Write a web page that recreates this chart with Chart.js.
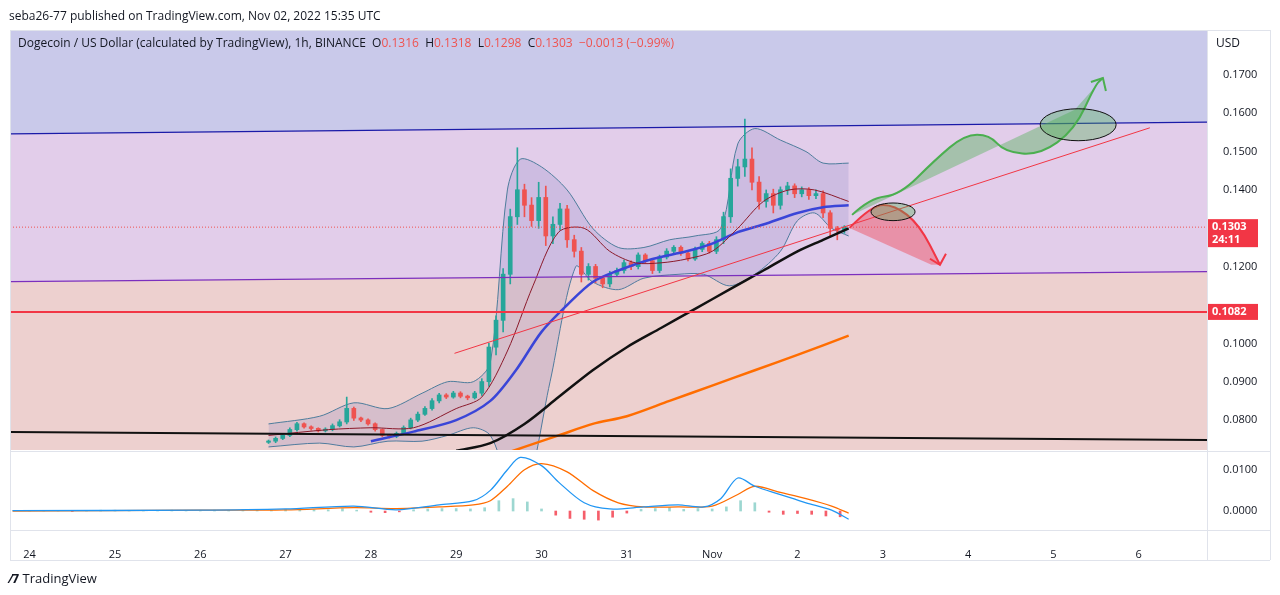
<!DOCTYPE html>
<html><head><meta charset="utf-8">
<script src="https://cdn.jsdelivr.net/npm/chart.js@4/dist/chart.umd.min.js"></script>
<style>
body{margin:0;background:#fff;font-family:"Open Sans",Arial,sans-serif;}
#wrap{position:relative;width:1280px;height:595px;}
canvas{position:absolute;left:0;}
.t{position:absolute;font-size:12px;color:#131722;white-space:nowrap;}
</style></head><body>
<div id="wrap"><canvas id="c1" width="1280" height="452" style="top:0"></canvas><canvas id="c2" width="1280" height="143" style="top:452px"></canvas>
<div class="t" style="left:9px;top:7px;font-size:12px">seba26-77 published on TradingView.com, Nov 02, 2022 15:35 UTC</div>
<div class="t" style="left:18px;top:34px;font-size:12px">Dogecoin / US Dollar (calculated by TradingView), 1h, BINANCE&nbsp; O<span style="color:#ef5350">0.1316</span>&nbsp; H<span style="color:#ef5350">0.1318</span>&nbsp; L<span style="color:#ef5350">0.1298</span>&nbsp; C<span style="color:#ef5350">0.1303&nbsp; −0.0013 (−0.99%)</span></div>
<div class="t" style="left:1216px;top:34px">USD</div>
<div class="t" style="left:10px;top:569px;font-size:13px;font-weight:bold">⁄7 <span style="font-weight:normal">TradingView</span></div>
</div>
<script>
// ---- data ----
const tickLabels=['24','25','26','27','28','29','30','31','Nov','2','3','4','5','6'];
const candleStart=2.8, candleStep=1/12;
const closes=[0.0745,0.0752,0.0760,0.0775,0.0790,0.0782,0.0778,0.0772,0.0776,
0.0785,0.0795,0.0830,0.0805,0.0800,0.0790,
0.0775,0.0760,0.0758,0.0765,0.0780,0.0800,
0.0815,0.0830,0.0850,0.0865,0.0860,0.0870,
0.0862,0.0858,0.0870,0.0900,0.0990,
0.1060,0.1180,0.1330,0.1400,0.1360,
0.1320,0.1380,0.1280,0.1310,0.1350,
0.1270,0.1240,0.1180,0.1200,0.1170,
0.1155,0.1180,0.1190,0.1210,0.1200,0.1230,0.1215,
0.1190,0.1225,0.1240,0.1250,0.1235,0.1220,0.1245,
0.1260,0.1240,0.1270,0.1330,
0.1430,0.1460,0.1480,0.1420,
0.1370,0.1390,0.1360,0.1400,0.1410,0.1390,0.1400,
0.1385,0.1390,0.1340,0.1300,0.1295,0.1303];
const wickUp=[3,4,3,5,4,3,3,2,4, 5,6,30,4,3,3, 3,2,3,4,5,5, 6,5,6,5,4,5, 4,3,5,8,10, 12,15,20,110,15, 20,40,30,20,15, 10,12,10,8,6, 5,8,6,7,5,6,4, 6,5,7,5,4,5,6, 5,6,8,12, 25,20,105,30, 15,10,12,8,10,6,8, 6,10,8,6,5,4];
const wickDn=[3,4,3,3,4,3,4,3,3, 4,3,5,6,4,3, 4,3,5,4,3,3, 4,3,4,5,4,3, 4,5,3,6,12, 20,30,25,20,30, 15,20,25,20,15, 20,15,20,15,12, 10,8,6,7,8,6,5, 8,6,5,7,6,5,4, 6,5,6,10, 15,20,25,20, 20,15,20,10,12,10,8, 10,8,12,20,25,8];
const ma20=[[2.8,0.076],[3.5,0.0775],[4.0,0.078],[4.5,0.078],[5.0,0.083],[5.3,0.086],[5.6,0.098],[5.9,0.115],[6.2,0.129],[6.5,0.130],[6.8,0.124],[7.1,0.121],[7.4,0.121],[7.7,0.122],[8.0,0.124],[8.3,0.130],[8.6,0.137],[8.9,0.140],[9.2,0.140],[9.6,0.137]];
const bbUpper=[[2.8,0.079],[3.4,0.081],[3.8,0.0845],[4.2,0.083],[4.6,0.087],[4.9,0.090],[5.2,0.090],[5.4,0.095],[5.6,0.140],[5.75,0.148],[6.0,0.146],[6.3,0.140],[6.6,0.130],[6.9,0.125],[7.2,0.125],[7.5,0.127],[7.8,0.128],[8.1,0.130],[8.3,0.152],[8.5,0.156],[8.8,0.153],[9.1,0.150],[9.3,0.147],[9.6,0.147]];
const bbLower=[[2.8,0.073],[3.4,0.074],[3.8,0.073],[4.2,0.0745],[4.6,0.0745],[4.9,0.076],[5.2,0.078],[5.4,0.076],[5.6,0.065],[5.8,0.060],[6.1,0.090],[6.4,0.120],[6.6,0.116],[6.9,0.114],[7.2,0.117],[7.6,0.118],[7.9,0.118],[8.2,0.115],[8.5,0.118],[8.8,0.124],[9.0,0.132],[9.2,0.134],[9.4,0.130],[9.6,0.128]];
const maBlue=[[4.0,0.0745],[4.5,0.077],[5.0,0.080],[5.4,0.085],[5.7,0.093],[6.0,0.103],[6.3,0.110],[6.6,0.116],[6.9,0.119],[7.3,0.122],[7.7,0.124],[8.0,0.126],[8.3,0.129],[8.6,0.131],[9.0,0.134],[9.3,0.1355],[9.6,0.136]];
const maBlack=[[5.0,0.0720],[5.4,0.0740],[5.8,0.079],[6.2,0.086],[6.6,0.093],[7.0,0.099],[7.4,0.104],[7.8,0.109],[8.2,0.114],[8.6,0.119],[9.0,0.124],[9.3,0.127],[9.6,0.130]];
const maOrange=[[5.4,0.070],[5.8,0.073],[6.2,0.076],[6.6,0.079],[7.0,0.081],[7.5,0.085],[8.0,0.089],[8.5,0.093],[9.0,0.097],[9.6,0.102]];
const lineBlueTop=[[-0.23,0.1546],[13.8,0.1577]];
const linePurple=[[-0.23,0.1161],[13.8,0.1187]];
const lineBlackLow=[[-0.23,0.0769],[13.8,0.0748]];
const lineRedTrend=[[4.98,0.0974],[13.13,0.1562]];
const levelRed=0.1082, lastPrice=0.1303;
const greenUpper=[[9.64,0.1335],[9.85,0.1379],[10.2,0.1387],[10.61,0.1478],[10.96,0.1544],[11.25,0.1544],[11.43,0.1499],[11.84,0.1491],[12.25,0.1557],[12.49,0.1674],[12.58,0.1692]];
const greenLower=[[12.25,0.1609],[9.64,0.1335]];
const redUpper=[[9.61,0.1301],[9.87,0.1361],[10.14,0.1361],[10.43,0.1309],[10.67,0.1205]];
const redLower=[[10.57,0.1205],[9.61,0.1301]];
const ellipses=[[12.29,0.1570,0.445,0.00417],[10.12,0.1343,0.258,0.0023]];
const histStart=0, histStep=1/6;
const hist=[1,1,0,-1,1,2, 2,1,0,1,2,1, 1,2,1,3,2,2, 4,5,3,3,6,2, -3,-4,-2,3,5,6, 6,5,8,25,30,22, 5,-10,-18,-20,-22,-15, -5,4,6,8,4,6, 5,10,25,20,-3,-8, -6,-8,-12,-14];
const macd=[[-0.2,0.0001],[2,0.0002],[3,0.0005],[3.8,0.0012],[4.3,0.0003],[4.8,0.0015],[5.2,0.0025],[5.4,0.005],[5.6,0.010],[5.75,0.013],[6.0,0.011],[6.2,0.007],[6.5,0.002],[6.8,0.0005],[7.2,0.001],[7.6,0.0015],[7.9,0.001],[8.1,0.003],[8.3,0.008],[8.5,0.006],[8.8,0.004],[9.1,0.002],[9.4,0.0002],[9.6,-0.002]];
const signal=[[-0.2,0],[2,0.0002],[3,0.0003],[3.8,0.0008],[4.3,0.0006],[4.8,0.0010],[5.2,0.0015],[5.4,0.0025],[5.6,0.006],[5.8,0.010],[6.0,0.0115],[6.3,0.0095],[6.6,0.005],[6.9,0.002],[7.2,0.001],[7.6,0.001],[8.0,0.0012],[8.3,0.004],[8.5,0.006],[8.8,0.0045],[9.1,0.003],[9.4,0.0012],[9.6,-0.0005]];

// ---- build ----
const XMIN=-0.23, XMAX=13.8;
const pts=a=>a.map(p=>({x:p[0],y:p[1]}));
const bodies=[],wicks=[],bodyCol=[];
closes.forEach((c,i)=>{
  const o=i?closes[i-1]:c-0.0003, t=candleStart+i*candleStep;
  const hi=Math.max(o,c)+wickUp[i]/10000, lo=Math.min(o,c)-wickDn[i]/10000;
  bodies.push({x:t,y:[Math.min(o,c),Math.max(o,c)+0.00005]}); wicks.push({x:t,y:[lo,hi]});
  bodyCol.push(c>=o?'#26a69a':'#ef5350');
});
const histData=hist.map((v,i)=>({x:histStart+i*histStep,y:v/10000}));
const L=(data,color,w,extra)=>Object.assign({type:'line',data:pts(data),borderColor:color,borderWidth:w,pointRadius:0,tension:0.3,order:1},extra||{});
const font={size:11,family:'Open Sans'};

const drawPlugin={id:'draw',
 beforeDatasetsDraw(ch){
  const {ctx,chartArea:a,scales:{x,y}}=ch;
  ctx.save(); ctx.beginPath(); ctx.rect(a.left,a.top,a.right-a.left,a.bottom-a.top); ctx.clip();
  const P=p=>[x.getPixelForValue(p[0]),y.getPixelForValue(p[1])];
  const band=(topL,botL,col)=>{ctx.beginPath();ctx.moveTo(...P(topL[0]));ctx.lineTo(...P(topL[1]));ctx.lineTo(...P(botL[1]));ctx.lineTo(...P(botL[0]));ctx.closePath();ctx.fillStyle=col;ctx.fill();};
  band([[XMIN,0.30],[XMAX,0.30]],lineBlueTop,'#c9c9ea');
  band(lineBlueTop,linePurple,'#e2cdea');
  band(linePurple,[[XMIN,0.0],[XMAX,0.0]],'#edd0cf');
  ctx.restore();
 },
 afterDatasetsDraw(ch){
  const {ctx,chartArea:a,scales:{x,y}}=ch;
  const P=p=>[x.getPixelForValue(p[0]),y.getPixelForValue(p[1])];
  ctx.save(); ctx.beginPath(); ctx.rect(a.left,a.top,a.right-a.left,a.bottom-a.top); ctx.clip();
  const seg=(l,c,w)=>{ctx.beginPath();ctx.moveTo(...P(l[0]));ctx.lineTo(...P(l[1]));ctx.strokeStyle=c;ctx.lineWidth=w;ctx.stroke();};
  seg(lineBlueTop,'#1a1aa8',1.3); seg(linePurple,'#7b2fbe',1.3); seg(lineBlackLow,'#111',2); seg(lineRedTrend,'#f23645',1);
  seg([[XMIN,levelRed],[XMAX,levelRed]],'#f23645',2);
  ctx.setLineDash([1,2]); seg([[XMIN,lastPrice],[XMAX,lastPrice]],'#ef5350',1); ctx.setLineDash([]);
  const shape=(up,low,fill,stroke)=>{ctx.beginPath();ctx.moveTo(...P(up[0]));for(let i=1;i<up.length-1;i++){const m=P(up[i]),n=P(up[i+1]);ctx.quadraticCurveTo(m[0],m[1],(m[0]+n[0])/2,(m[1]+n[1])/2);}ctx.lineTo(...P(up[up.length-1]));
   ctx.strokeStyle=stroke;ctx.lineWidth=2;ctx.stroke();
   ctx.lineTo(...P(low[0]));ctx.lineTo(...P(low[1]));ctx.closePath();ctx.fillStyle=fill;ctx.fill();};
  shape(greenUpper,greenLower,'rgba(76,175,80,0.4)','#4caf50');
  shape(redUpper,redLower,'rgba(242,54,69,0.4)','#f23645');
  const head=(p,c,a1,a2)=>{const [px,py]=P(p);ctx.beginPath();ctx.moveTo(px+a1[0],py+a1[1]);ctx.lineTo(px,py);ctx.lineTo(px+a2[0],py+a2[1]);ctx.strokeStyle=c;ctx.lineWidth=2;ctx.stroke();};
  head(greenUpper[greenUpper.length-1],'#4caf50',[-12,4],[3,13]);
  head(redUpper[redUpper.length-1],'#f23645',[-10,-6],[6,-11]);
  ellipses.forEach(e=>{const [cx,cy]=P([e[0],e[1]]);const rx=x.getPixelForValue(e[0]+e[2])-cx, ry=cy-y.getPixelForValue(e[1]+e[3]);
   ctx.beginPath();ctx.ellipse(cx,cy,rx,ry,0,0,Math.PI*2);ctx.fillStyle='rgba(76,175,80,0.35)';ctx.fill();ctx.strokeStyle='#111';ctx.lineWidth=1;ctx.stroke();});
  ctx.restore();
  ctx.save(); ctx.strokeStyle='#e0e3eb'; ctx.lineWidth=1;
  ctx.beginPath(); ctx.moveTo(a.left+0.5,a.top); ctx.lineTo(a.left+0.5,a.bottom+2); ctx.moveTo(a.left,a.top+0.5); ctx.lineTo(1270,a.top+0.5);
  ctx.moveTo(a.right+0.5,a.top); ctx.lineTo(a.right+0.5,a.bottom+2); ctx.moveTo(a.left,a.bottom+1.5); ctx.lineTo(1270,a.bottom+1.5); ctx.moveTo(1270.5,a.top);ctx.lineTo(1270.5,a.bottom+2); ctx.stroke();
  const tag=(v,lines,h)=>{const py=y.getPixelForValue(v);ctx.fillStyle='#f23645';ctx.fillRect(a.right+1,py-8,50,h);ctx.fillStyle='#fff';ctx.font='bold 11px "Open Sans"';ctx.textBaseline='middle';lines.forEach((s,i)=>ctx.fillText(s,a.right+5,py+i*13));};
  tag(lastPrice,['0.1303','24:11'],28); tag(levelRed,['0.1082'],16);
  ctx.restore();
 }};
const borderPlugin2={id:'b2',afterDraw(ch){const {ctx,chartArea:a}=ch;ctx.save();ctx.strokeStyle='#e0e3eb';ctx.lineWidth=1;ctx.beginPath();
  ctx.moveTo(a.left+0.5,0);ctx.lineTo(a.left+0.5,108);ctx.moveTo(a.right+0.5,0);ctx.lineTo(a.right+0.5,108);ctx.moveTo(a.left,a.bottom+0.5);ctx.lineTo(1270,a.bottom+0.5);ctx.moveTo(a.left,108.5);ctx.lineTo(1270,108.5);ctx.moveTo(1270.5,0);ctx.lineTo(1270.5,108);ctx.stroke();ctx.restore();}};

const xScale=(show,h)=>({type:'linear',offset:false,min:XMIN,max:XMAX,grid:{display:false,offset:false},border:{display:false},display:show,
  afterBuildTicks:s=>{s.ticks=tickLabels.map((_,i)=>({value:i}));},
  afterFit:s=>{s.height=h;s.paddingLeft=0;s.paddingRight=0;},
  ticks:{autoSkip:false,maxRotation:0,color:'#131722',font,padding:10,callback:v=>tickLabels[v]}});

new Chart(document.getElementById('c1'),{
 data:{datasets:[
  {type:'bar',data:wicks,backgroundColor:bodyCol,barThickness:1,grouped:false,order:3},
  {type:'bar',data:bodies,backgroundColor:bodyCol,barThickness:4,grouped:false,order:2},
  L(bbUpper,'#4e7d9c',1,{fill:'+1',backgroundColor:'rgba(110,110,190,0.18)',order:5}),
  L(bbLower,'#4e7d9c',1,{order:5}),
  L(ma20,'#8b1a2b',1),
  L(maBlue,'#3a45d8',2.5),
  L(maBlack,'#111',2.5),
  L(maOrange,'#ff6d00',2.5)
 ]},
 options:{responsive:false,animation:false,
  layout:{padding:{top:30,left:10,right:0,bottom:2}},
  plugins:{legend:{display:false},tooltip:{enabled:false}},
  scales:{x:xScale(false,0),
   y:{position:'right',min:0.0722,max:0.1817,grid:{display:false},border:{display:false},
      afterFit:s=>{s.width=73;s.paddingTop=0;s.paddingBottom=0;},
      afterBuildTicks:s=>{s.ticks=[0.08,0.09,0.10,0.12,0.14,0.15,0.16,0.17].map(v=>({value:v}));},
      ticks:{color:'#131722',font,padding:8,callback:v=>v.toFixed(4)}}}},
 plugins:[drawPlugin]
});
new Chart(document.getElementById('c2'),{
 data:{datasets:[
  {type:'bar',data:histData,backgroundColor:histData.map(d=>d.y>=0?'rgba(38,166,154,0.45)':'rgba(242,54,69,0.8)'),barThickness:2,grouped:false,order:4},
  {type:'line',data:pts(macd),borderColor:'#2196f3',borderWidth:1.3,pointRadius:0,tension:0.3},
  {type:'line',data:pts(signal),borderColor:'#ff6d00',borderWidth:1.3,pointRadius:0,tension:0.3}
 ]},
 options:{responsive:false,animation:false,
  layout:{padding:{top:0,left:10,right:0,bottom:0}},
  plugins:{legend:{display:false},tooltip:{enabled:false}},
  scales:{x:xScale(true,65),
   y:{position:'right',min:-0.0046,max:0.0143,grid:{display:false},border:{display:false},
      afterFit:s=>{s.width=73;s.paddingTop=0;s.paddingBottom=0;},
      afterBuildTicks:s=>{s.ticks=[{value:0},{value:0.01}];},
      ticks:{color:'#131722',font,padding:8,callback:v=>v.toFixed(4)}}}},
 plugins:[borderPlugin2]
});
</script></body></html>
